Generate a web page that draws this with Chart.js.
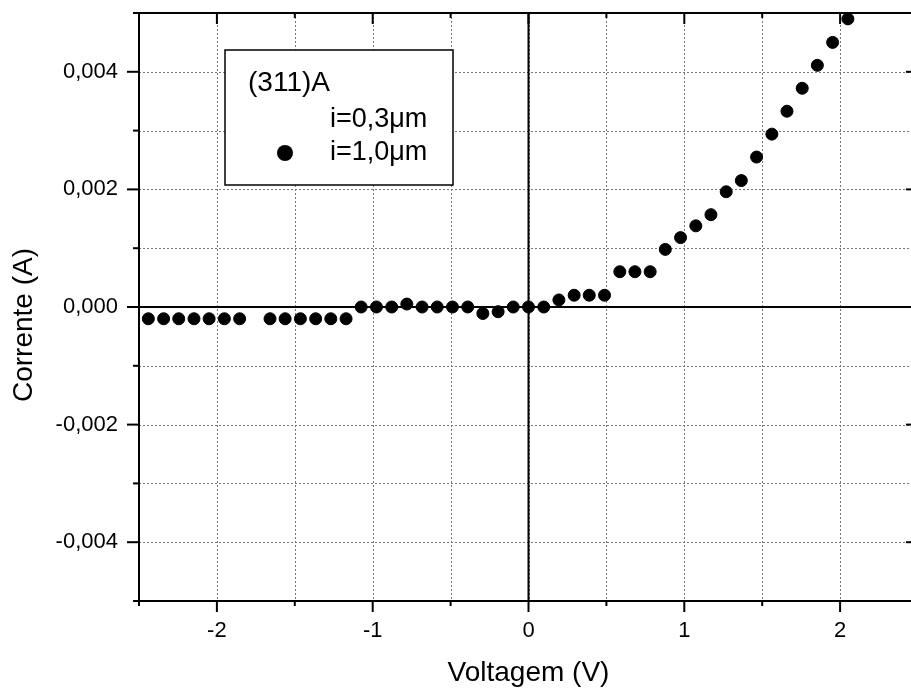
<!DOCTYPE html>
<html>
<head>
<meta charset="utf-8">
<script src="https://cdn.jsdelivr.net/npm/chart.js@4/dist/chart.umd.min.js"></script>
<style>
  html, body { margin: 0; padding: 0; background: #fff; overflow: hidden; }
  #wrap { position: absolute; left: 0; top: 0; width: 930px; height: 690px; }
</style>
</head>
<body>
<div id="wrap"><canvas id="ivChart"></canvas></div>
<script>
// dados (tensão em V, corrente em A)
const voltagem = [
  -2.440, -2.342, -2.245, -2.147, -2.050, -1.952, -1.854,
  -1.659, -1.562, -1.464, -1.366, -1.269, -1.171,
  -1.074, -0.976, -0.878, -0.781, -0.683, -0.586, -0.488, -0.390,
  -0.293, -0.195, -0.098, 0.000, 0.098, 0.195, 0.293, 0.390, 0.488,
  0.586, 0.683, 0.781, 0.878, 0.976, 1.074, 1.171, 1.269, 1.366,
  1.464, 1.562, 1.659, 1.757, 1.854, 1.952, 2.050
];
const corrente = [
  -0.0002, -0.0002, -0.0002, -0.0002, -0.0002, -0.0002, -0.0002,
  -0.0002, -0.0002, -0.0002, -0.0002, -0.0002, -0.0002,
  0.0000, 0.0000, 0.0000, 0.00005, 0.0000, 0.0000, 0.0000, 0.0000,
  -0.00011, -0.00008, 0.0000, 0.0000, 0.0000, 0.00012, 0.0002, 0.0002, 0.0002,
  0.0006, 0.0006, 0.0006, 0.00098, 0.00118, 0.00138, 0.00157, 0.00196, 0.00215,
  0.00255, 0.00294, 0.00333, 0.00372, 0.00411, 0.0045, 0.0049
];
const legendaTitulo = "(311)A";
const series = ["i=0,3\u03bcm", "i=1,0\u03bcm"];
const xTitle = "Voltagem (V)";
const yTitle = "Corrente (A)";

const FONT = "'Liberation Sans', Arial, sans-serif";

// grade pontilhada, eixos, linhas do zero e marcas
const molduraPlugin = {
  id: "moldura",
  beforeDatasetsDraw(chart) {
    const { ctx, chartArea: a, scales: { x, y } } = chart;
    ctx.save();
    ctx.strokeStyle = "#777";
    ctx.lineWidth = 1;
    ctx.setLineDash([2, 2]);
    for (let i = -4; i <= 4; i++) {
      const px = Math.round(x.getPixelForValue(i * 0.5)) + 0.5;
      ctx.beginPath(); ctx.moveTo(px, a.top); ctx.lineTo(px, a.bottom); ctx.stroke();
    }
    for (let j = -4; j <= 4; j++) {
      const py = Math.round(y.getPixelForValue(j * 0.001)) + 0.5;
      ctx.beginPath(); ctx.moveTo(a.left, py); ctx.lineTo(a.right, py); ctx.stroke();
    }
    ctx.setLineDash([]);
    ctx.strokeStyle = "#000";
    ctx.lineWidth = 2;
    // linhas do zero
    const x0 = x.getPixelForValue(0), y0 = y.getPixelForValue(0);
    ctx.beginPath(); ctx.moveTo(x0, a.top); ctx.lineTo(x0, a.bottom); ctx.stroke();
    ctx.beginPath(); ctx.moveTo(a.left, y0); ctx.lineTo(a.right, y0); ctx.stroke();
    // moldura
    ctx.strokeRect(a.left, a.top, a.right - a.left, a.bottom - a.top);
    // marcas do eixo x
    for (let i = -5; i <= 5; i++) {
      const px = x.getPixelForValue(i * 0.5);
      const major = i % 2 === 0;
      ctx.beginPath(); ctx.moveTo(px, a.bottom); ctx.lineTo(px, a.bottom + (major ? 11 : 5)); ctx.stroke();
      ctx.beginPath(); ctx.moveTo(px, a.top); ctx.lineTo(px, a.top + (major ? 11 : 5)); ctx.stroke();
    }
    // marcas do eixo y
    for (let j = -5; j <= 5; j++) {
      const py = y.getPixelForValue(j * 0.001);
      const major = j % 2 === 0;
      ctx.beginPath(); ctx.moveTo(a.left, py); ctx.lineTo(a.left - (major ? 12 : 6), py); ctx.stroke();
      ctx.beginPath(); ctx.moveTo(a.right, py); ctx.lineTo(a.right - (major ? 12 : 6), py); ctx.stroke();
    }
    ctx.restore();
  },
  afterDraw(chart) {
    const { ctx } = chart;
    ctx.save();
    // título do eixo y
    ctx.fillStyle = "#000";
    ctx.font = "28px " + FONT;
    ctx.translate(24, 325);
    ctx.rotate(-Math.PI / 2);
    ctx.textAlign = "center";
    ctx.textBaseline = "middle";
    ctx.fillText(yTitle, 0, 0);
    ctx.restore();

    // legenda
    ctx.save();
    ctx.fillStyle = "#fff";
    ctx.fillRect(225, 50, 228, 135);
    ctx.strokeStyle = "#000";
    ctx.lineWidth = 1.5;
    ctx.strokeRect(225, 50, 228, 135);
    ctx.fillStyle = "#000";
    ctx.font = "28px " + FONT;
    ctx.textAlign = "left";
    ctx.textBaseline = "middle";
    ctx.fillText(legendaTitulo, 248, 83);
    ctx.font = "27px " + FONT;
    const labels = chart.data.datasets.map(d => d.label);
    ctx.fillText(labels[0], 330, 120);
    ctx.fillText(labels[1], 330, 153);
    ctx.beginPath();
    ctx.arc(285, 153, 8, 0, Math.PI * 2);
    ctx.fill();
    ctx.restore();
  }
};

function fmtY(v) {
  const n = Math.round(v * 1000);
  if (n % 2 !== 0 || Math.abs(n) === 5) return "";
  return (n / 1000).toFixed(3).replace(".", ",");
}

const ctx = document.getElementById("ivChart").getContext("2d");
new Chart(ctx, {
  type: "scatter",
  data: {
    datasets: [
      { label: series[0], data: [], pointRadius: 0 },
      {
        label: series[1],
        data: voltagem.map((v, i) => ({ x: v, y: corrente[i] })),
        backgroundColor: "#000",
        borderColor: "#000",
        pointRadius: 6,
        pointBorderWidth: 1
      }
    ]
  },
  options: {
    responsive: true,
    maintainAspectRatio: false,
    animation: false,
    layout: { padding: { left: 0, top: 13, right: 12, bottom: 0 } },
    plugins: { legend: { display: false }, tooltip: { enabled: false } },
    scales: {
      x: {
        type: "linear",
        min: -2.5,
        max: 2.5,
        afterFit: s => { s.height = 89; s.paddingLeft = 0; s.paddingRight = 0; },
        grid: { display: false, drawTicks: false },
        border: { display: false },
        ticks: {
          stepSize: 0.5,
          padding: 17,
          color: "#000",
          font: { family: FONT, size: 22 },
          maxRotation: 0,
          autoSkip: false,
          callback: v => (Math.abs(v - Math.round(v)) < 1e-6 && Math.abs(v) < 2.4) ? String(Math.round(v)) : ""
        },
        title: {
          display: true,
          text: xTitle,
          color: "#000",
          font: { family: FONT, size: 28 },
          padding: { top: 0, bottom: 0 }
        }
      },
      y: {
        type: "linear",
        min: -0.005,
        max: 0.005,
        afterFit: s => { s.width = 139; s.paddingTop = 0; s.paddingBottom = 0; },
        grid: { display: false, drawTicks: false },
        border: { display: false },
        ticks: {
          stepSize: 0.001,
          padding: 21,
          color: "#000",
          font: { family: FONT, size: 22 },
          autoSkip: false,
          callback: fmtY
        }
      }
    }
  },
  plugins: [molduraPlugin]
});
</script>
</body>
</html>
